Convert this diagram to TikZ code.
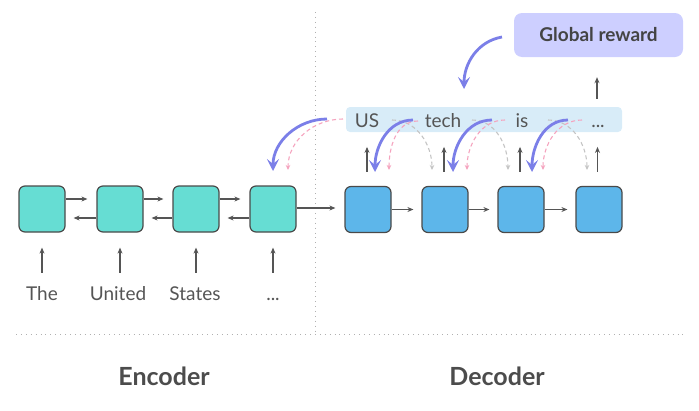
\documentclass[tikz,border=0pt]{standalone}
\usepackage{fontspec}
\setmainfont{Lato}
\usetikzlibrary{arrows.meta,calc}
\definecolor{bord}{HTML}{4A4A4A}
\definecolor{teal1}{HTML}{66DDD3}
\definecolor{blue1}{HTML}{5DB6EA}
\definecolor{barblue}{HTML}{D8ECF8}
\definecolor{rewardc}{HTML}{CDCFFF}
\definecolor{purp}{HTML}{7B7FE8}
\definecolor{pinkc}{HTML}{F5A3BE}
\definecolor{grayd}{HTML}{C4C4C4}
\definecolor{arrgray}{HTML}{555555}
\definecolor{txt}{HTML}{555555}
\definecolor{dotc}{HTML}{B0B0B0}
\begin{document}
\begin{tikzpicture}[x=1pt,y=-1pt,
  cell/.style={draw=bord,line width=1.2pt,rounded corners=6pt,minimum width=46pt,minimum height=46pt,inner sep=0pt},
  enc/.style={cell,fill=teal1},
  dec/.style={cell,fill=blue1},
  arr/.style={draw=arrgray,line width=1.2pt,-{Stealth[length=6pt,width=5pt]}},
  word/.style={text=txt,font=\fontsize{19}{22}\selectfont,inner sep=0pt,anchor=base},
  purpa/.style={draw=purp,line width=2.8pt,-{Stealth[length=12pt,width=12pt,inset=5pt]}},
  pinka/.style={draw=pinkc,line width=1.1pt,dash pattern=on 4pt off 3pt,-{Stealth[length=5pt,width=4.5pt]}},
  graya/.style={draw=grayd,line width=1.1pt,dash pattern=on 4pt off 3pt,-{Stealth[length=5pt,width=4.5pt]}},
  dotline/.style={draw=dotc,line width=0.9pt,dash pattern=on 0.9pt off 4pt},
  title/.style={text=txt!90!black,font=\bfseries\fontsize{25}{28}\selectfont,inner sep=0pt}
]
\useasboundingbox (0,0) rectangle (699,410);

% separators
\coordinate (vtop) at (315,12);
\coordinate (vbot) at (315,333);
\coordinate (hl) at (16,334);
\coordinate (hr) at (683,334);
\draw[dotline] (vtop) -- (vbot);
\draw[dotline] (hl) -- (hr);

% encoder cells
\node[enc] (e1) at (42,209) {};
\node[enc] (e2) at (120,209) {};
\node[enc] (e3) at (196,209) {};
\node[enc] (e4) at (273,209) {};
% decoder cells
\node[dec] (d1) at (368,209.5) {};
\node[dec] (d2) at (445,209.5) {};
\node[dec] (d3) at (521,209.5) {};
\node[dec] (d4) at (599,209.5) {};

% encoder links
\foreach \a/\b in {e1/e2,e2/e3,e3/e4}{
  \draw[arr,shorten >=9pt] ($(\a.east)+(0,-10)$) -- ($(\b.west)+(0,-10)$);
  \draw[arr,shorten >=8pt] ($(\b.west)+(0,9)$) -- ($(\a.east)+(0,9)$);
}
\draw[arr,shorten >=9pt] ($(e4.east)+(0,-1)$) -- ($(d1.west)+(0,-1.5)$);
\foreach \a/\b in {d1/d2,d2/d3,d3/d4}{
  \draw[arr,shorten >=8pt] (\a.east) -- (\b.west);
}

% encoder inputs
\node[word] (t1) at (42,300) {The};
\node[word] (t2) at (118,300) {United};
\node[word] (t3) at (195,300) {States};
\node[word] (t4) at (273,300) {...};
\foreach \e in {e1,e2,e3,e4}{
  \draw[arr] ($(\e.south)+(0,40)$) -- ($(\e.south)+(0,15)$);
}

% output bar
\node[fill=barblue,rounded corners=4pt,minimum width=276pt,minimum height=25pt,inner sep=0pt] (bar) at (484,119.5) {};

% reward box
\node[fill=rewardc,rounded corners=8pt,minimum width=169pt,minimum height=44pt,inner sep=0pt,
      text=txt!80!black,font=\bfseries\fontsize{19}{22}\selectfont] (reward) at (598.5,35) {Global reward};

% decoder up arrows
\foreach \d in {d1,d2,d3}{
  \draw[arr] ($(\d.north)+(-1,-14)$) -- ($(\d.north)+(-1,-39)$);
}
\draw[arr] ($(d4.north)+(-1.5,-14)$) -- ($(d4.north)+(-1.5,-39)$);
\draw[arr] ($(bar.north)+(113,-8)$) -- ($(reward.south)+(-1.5,20)$);

% curved arrows: coordinates
\coordinate (ep) at (343,119);
\coordinate (ep2) at (288,170);
\coordinate (eq) at (327,119);
\coordinate (eq2) at (273,171);

\coordinate (g1) at (392,120);  \coordinate (g1e) at (432,170);
\coordinate (p1) at (418,121);  \coordinate (p1e) at (389,170);
\coordinate (q1) at (413,120);  \coordinate (q1e) at (375,172);

\coordinate (g2) at (472,120);  \coordinate (g2e) at (508,170);
\coordinate (p2) at (505,120);  \coordinate (p2e) at (467,170);
\coordinate (q2) at (492,120);  \coordinate (q2e) at (453,172);

\coordinate (g3) at (548,120);  \coordinate (g3e) at (587,170);
\coordinate (p3) at (582,120);  \coordinate (p3e) at (543,170);
\coordinate (q3) at (568,120);  \coordinate (q3e) at (532,172);

\coordinate (rs) at (502,37);   \coordinate (re) at (464,89);

% dashed curves
\draw[pinka] (ep) to[out=180,in=90] (ep2);
\foreach \i in {1,2,3}{
  \draw[graya] (g\i) to[out=0,in=90] (g\i e);
  \draw[pinka] (p\i) to[out=180,in=90] (p\i e);
}
% purple curves
\draw[purpa] (eq) to[out=180,in=90] (eq2);
\foreach \i in {1,2,3}{
  \draw[purpa] (q\i) to[out=180,in=90] (q\i e);
}
\draw[purpa] (rs) to[out=190,in=90] (re);

% output words
\node[word] (w1) at (367,127) {US};
\node[word] (w2) at (443,127) {tech};
\node[word] (w3) at (522,127) {is};
\node[word] (w4) at (598,127) {...};

% titles
\node[title] (enc) at (164,376) {Encoder};
\node[title] (dec) at (497,376) {Decoder};
\end{tikzpicture}
\end{document}
